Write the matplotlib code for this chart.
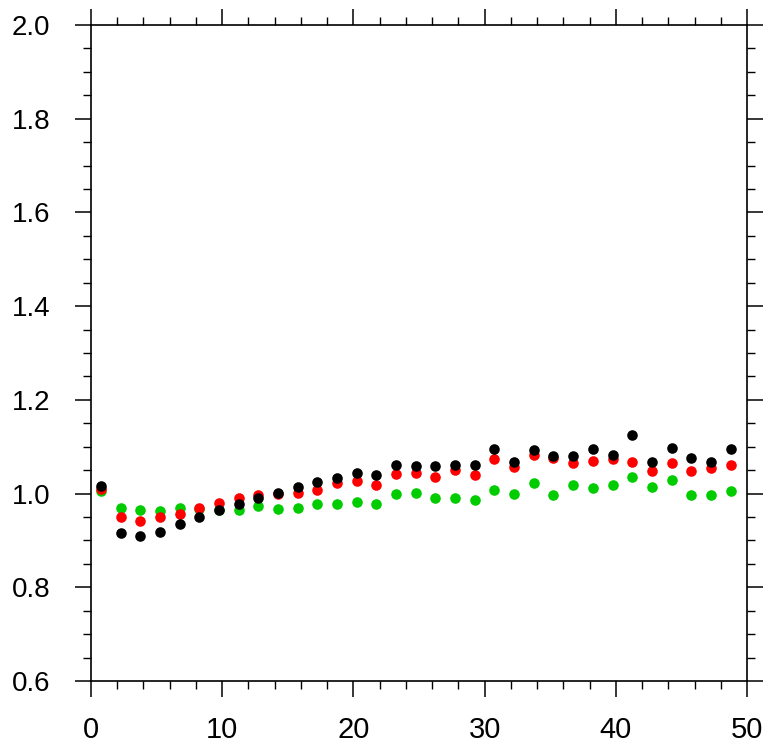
import matplotlib
matplotlib.use("Agg")
import matplotlib.pyplot as plt
import numpy as np
from matplotlib.ticker import MultipleLocator

plt.rcParams['font.family'] = ['Liberation Sans', 'DejaVu Sans']

x = [0.75 + 1.5 * i for i in range(33)]

green = [1.006, 0.970, 0.965, 0.963, 0.969, 0.968, 0.965, 0.966, 0.973, 0.968,
         0.970, 0.977, 0.978, 0.982, 0.978, 0.999, 1.001, 0.991, 0.990, 0.987,
         1.008, 1.000, 1.023, 0.996, 1.019, 1.012, 1.018, 1.035, 1.013, 1.029,
         0.998, 0.998, 1.005]
red = [1.009, 0.949, 0.941, 0.949, 0.956, 0.970, 0.979, 0.990, 0.998, 0.999,
       1.002, 1.008, 1.023, 1.026, 1.019, 1.041, 1.044, 1.035, 1.050, 1.039,
       1.073, 1.057, 1.082, 1.076, 1.066, 1.070, 1.074, 1.067, 1.049, 1.065,
       1.049, 1.055, 1.061]
black = [1.016, 0.916, 0.910, 0.917, 0.935, 0.951, 0.964, 0.978, 0.990, 1.001,
         1.015, 1.025, 1.034, 1.043, 1.039, 1.061, 1.059, 1.059, 1.060, 1.060,
         1.095, 1.067, 1.093, 1.080, 1.081, 1.096, 1.083, 1.126, 1.067, 1.097,
         1.076, 1.067, 1.095]

fig = plt.figure(figsize=(7.67, 7.47), dpi=100)
ax = fig.add_axes([91/767, 1 - 681/747, (747-91)/767, (681-25)/747])

ms = 58
ax.scatter(x, green, s=ms, color='#00cc00', zorder=3, linewidths=0)
ax.scatter(x, red, s=ms, color='#ff0000', zorder=4, linewidths=0)
ax.scatter(x, black, s=ms, color='#000000', zorder=5, linewidths=0)

ax.set_xlim(0, 50)
ax.set_ylim(0.6, 2.0)
ax.xaxis.set_major_locator(MultipleLocator(10))
ax.xaxis.set_minor_locator(MultipleLocator(2))
ax.yaxis.set_major_locator(MultipleLocator(0.2))
ax.yaxis.set_minor_locator(MultipleLocator(0.05))
ax.set_yticks(np.arange(0.6, 2.01, 0.2))
ax.set_yticklabels([f"{v:.1f}" for v in np.arange(0.6, 2.01, 0.2)])

for s in ax.spines.values():
    s.set_linewidth(1.2)
ax.tick_params(which='major', direction='out', length=11.5, width=1.1,
               top=True, right=True, labeltop=False, labelright=False)
ax.tick_params(which='minor', direction='out', length=5.8, width=1.0,
               top=True, right=True)
ax.tick_params(axis='x', which='major', labelsize=21, pad=14)
ax.tick_params(axis='y', which='major', labelsize=20, pad=18)

fig.savefig("out.png", dpi=100)
